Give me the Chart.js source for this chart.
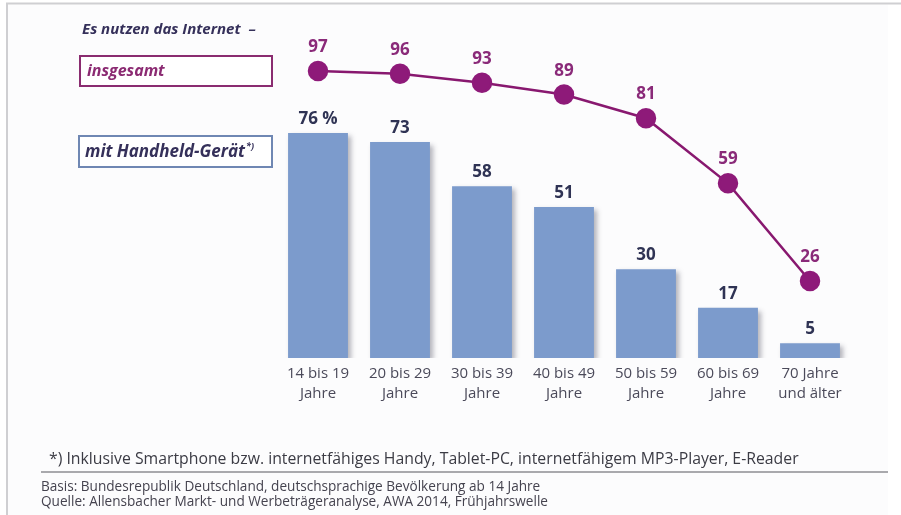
<!DOCTYPE html>
<html>
<head>
<meta charset="utf-8">
<script src="https://cdn.jsdelivr.net/npm/chart.js@4/dist/chart.umd.min.js"></script>
<style>
html,body{margin:0;padding:0;background:#ffffff;}
#wrap{position:relative;width:901px;height:515px;}
canvas{display:block;}
</style>
</head>
<body>
<div id="wrap"><canvas id="c" width="901" height="515"></canvas></div>
<script>
const categories = [
  ["14 bis 19", "Jahre"],
  ["20 bis 29", "Jahre"],
  ["30 bis 39", "Jahre"],
  ["40 bis 49", "Jahre"],
  ["50 bis 59", "Jahre"],
  ["60 bis 69", "Jahre"],
  ["70 Jahre", "und älter"]
];
const handheld = [76, 73, 58, 51, 30, 17, 5];
const insgesamt = [97, 96, 93, 89, 81, 59, 26];
const handheldLabels = ["76 %", "73", "58", "51", "30", "17", "5"];
const insgesamtLabels = ["97", "96", "93", "89", "81", "59", "26"];
const titleText = "Es nutzen das Internet  –";
const legendTotal = "insgesamt";
const legendHandheld = "mit Handheld-Gerät";
const footnote = "*) Inklusive Smartphone bzw. internetfähiges Handy, Tablet-PC, internetfähigem MP3-Player, E-Reader";
const basis = "Basis: Bundesrepublik Deutschland, deutschsprachige Bevölkerung ab 14 Jahre";
const quelle = "Quelle: Allensbacher Markt- und Werbeträgeranalyse, AWA 2014, Frühjahrswelle";

const FONT = "'Open Sans', 'DejaVu Sans', sans-serif";
const BAR = "#7c9bcc";
const LINE = "#88186f";
const PT = "#8e1a79";
const NAVY = "#2f3354";
const PURPLE = "#8a2a79";

const backgroundPlugin = {
  id: 'bgframe',
  beforeDraw(chart) {
    const ctx = chart.ctx;
    ctx.save();
    ctx.fillStyle = '#ffffff';
    ctx.fillRect(0, 0, chart.width, chart.height);
    ctx.fillStyle = '#fcfcfd';
    ctx.fillRect(7, 3, 881, 512);
    ctx.strokeStyle = '#cfcfd2';
    ctx.lineWidth = 2;
    ctx.beginPath();
    ctx.moveTo(7, 515); ctx.lineTo(7, 3.5); ctx.lineTo(901, 3.5);
    ctx.stroke();
    ctx.restore();
  }
};

const shadowPlugin = {
  id: 'barshadow',
  beforeDatasetDraw(chart, args) {
    if (chart.data.datasets[args.index].type === 'bar') {
      const ctx = chart.ctx;
      ctx.save();
      ctx.shadowColor = 'rgba(40,40,60,0.35)';
      ctx.shadowBlur = 5;
      ctx.shadowOffsetX = 3;
      ctx.shadowOffsetY = 3;
    }
  },
  afterDatasetDraw(chart, args) {
    if (chart.data.datasets[args.index].type === 'bar') {
      chart.ctx.restore();
    }
  }
};

const labelPlugin = {
  id: 'labels',
  afterDatasetsDraw(chart) {
    const ctx = chart.ctx;
    ctx.save();
    ctx.textAlign = 'center';
    ctx.textBaseline = 'alphabetic';
    ctx.font = "bold 17px " + FONT;
    const barMeta = chart.getDatasetMeta(1);
    ctx.fillStyle = NAVY;
    barMeta.data.forEach((el, i) => {
      ctx.fillText(handheldLabels[i], el.x, el.y - 9);
    });
    const lineMeta = chart.getDatasetMeta(0);
    ctx.fillStyle = PURPLE;
    lineMeta.data.forEach((el, i) => {
      ctx.fillText(insgesamtLabels[i], el.x, el.y - 19);
    });
    ctx.restore();
  }
};

const decorPlugin = {
  id: 'decor',
  afterDraw(chart) {
    const ctx = chart.ctx;
    ctx.save();
    // title
    ctx.textAlign = 'left';
    ctx.textBaseline = 'middle';
    ctx.fillStyle = '#35305a';
    ctx.font = "italic bold 15px " + FONT;
    ctx.fillText(titleText, 82, 30);
    // legend: insgesamt
    ctx.lineWidth = 2;
    ctx.strokeStyle = '#8a2c70';
    ctx.fillStyle = '#ffffff';
    ctx.fillRect(80, 56, 192, 30);
    ctx.strokeRect(80, 56, 192, 30);
    ctx.fillStyle = '#8b2a72';
    ctx.font = "italic bold 16px " + FONT;
    ctx.fillText(legendTotal, 87, 71);
    // legend: handheld
    ctx.strokeStyle = '#6f87b3';
    ctx.fillStyle = '#ffffff';
    ctx.fillRect(79, 136, 193, 31);
    ctx.strokeRect(79, 136, 193, 31);
    ctx.fillStyle = '#35305a';
    ctx.font = "italic bold 17px " + FONT;
    ctx.fillText(legendHandheld, 85, 152);
    const w = ctx.measureText(legendHandheld).width;
    ctx.font = "italic bold 9px " + FONT;
    ctx.fillText("*)", 85 + w + 1, 146);
    // footnote
    ctx.fillStyle = '#3b3b44';
    ctx.font = "15.8px " + FONT;
    ctx.fillText(footnote, 49, 459);
    ctx.strokeStyle = '#a9a9ad';
    ctx.lineWidth = 2;
    ctx.beginPath();
    ctx.moveTo(41, 472); ctx.lineTo(888, 472);
    ctx.stroke();
    ctx.font = "13.6px " + FONT;
    ctx.fillStyle = '#45434f';
    ctx.fillText(basis, 41, 487);
    ctx.fillText(quelle, 41, 502);
    ctx.restore();
  }
};

new Chart(document.getElementById('c'), {
  data: {
    labels: categories,
    datasets: [
      {
        type: 'line',
        label: legendTotal,
        data: insgesamt,
        borderColor: LINE,
        borderWidth: 2.5,
        backgroundColor: PT,
        pointBackgroundColor: PT,
        pointBorderColor: PT,
        pointRadius: 9,
        pointHoverRadius: 9,
        tension: 0,
        order: 0,
        clip: false
      },
      {
        type: 'bar',
        label: legendHandheld,
        data: handheld,
        backgroundColor: BAR,
        borderWidth: 0,
        barPercentage: 0.73,
        categoryPercentage: 1.0,
        order: 1
      }
    ]
  },
  options: {
    responsive: false,
    animation: false,
    events: [],
    layout: { padding: { left: 277, right: 50, top: 62, bottom: 114 } },
    plugins: { legend: { display: false }, tooltip: { enabled: false }, title: { display: false } },
    scales: {
      x: {
        grid: { display: false },
        border: { display: false },
        ticks: {
          color: '#4b4a5a',
          font: { family: FONT, size: 15, lineHeight: 1.3 },
          padding: -2,
          maxRotation: 0,
          autoSkip: false
        }
      },
      y: {
        display: false,
        min: 0,
        max: 100
      }
    }
  },
  plugins: [backgroundPlugin, shadowPlugin, labelPlugin, decorPlugin]
});
</script>
</body>
</html>
